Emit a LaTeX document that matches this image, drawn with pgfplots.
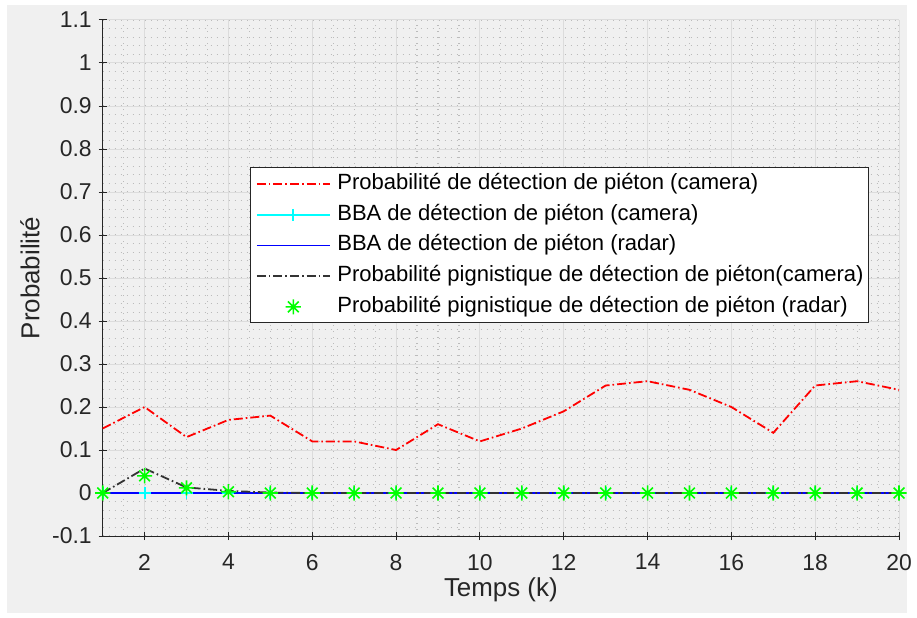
\documentclass[border=0pt]{standalone}
\usepackage{pgfplots}
\pgfplotsset{compat=1.18}
\usepackage{fontspec}
\setmainfont{Liberation Sans}
\definecolor{bg}{HTML}{F0F0F0}
\definecolor{axc}{HTML}{262626}
\definecolor{gridc}{HTML}{DCDCDC}
\definecolor{minorc}{HTML}{BBBBBB}
\definecolor{mred}{rgb}{1,0,0}
\definecolor{mcyan}{rgb}{0,1,1}
\definecolor{mblue}{rgb}{0,0,1}
\definecolor{mgreen}{rgb}{0,1,0}
\pgfdeclareplotmark{mstar}{%
 \pgfpathmoveto{\pgfqpoint{0pt}{\pgfplotmarksize}}\pgfpathlineto{\pgfqpoint{0pt}{-\pgfplotmarksize}}%
 \pgfpathmoveto{\pgfqpoint{\pgfplotmarksize}{0pt}}\pgfpathlineto{\pgfqpoint{-\pgfplotmarksize}{0pt}}%
 \pgfpathmoveto{\pgfqpoint{0.707\pgfplotmarksize}{0.707\pgfplotmarksize}}\pgfpathlineto{\pgfqpoint{-0.707\pgfplotmarksize}{-0.707\pgfplotmarksize}}%
 \pgfpathmoveto{\pgfqpoint{-0.707\pgfplotmarksize}{0.707\pgfplotmarksize}}\pgfpathlineto{\pgfqpoint{0.707\pgfplotmarksize}{-0.707\pgfplotmarksize}}%
 \pgfusepathqstroke}
\pgfplotsset{
  linelegend/.style={legend image code/.code={\draw[mark repeat=2, mark phase=2, ##1] plot coordinates {(0bp,0bp) (18.25bp,0bp) (36.5bp,0bp)};}},
  bluelegend/.style={legend image code/.code={\draw[draw=mblue, line width=0.9bp] (0bp,0bp) -- (36.5bp,0bp);}},
  starlegend/.style={legend image code/.code={\path[draw=none] (0bp,0bp) -- (36.5bp,0bp); \draw[##1, draw=none] plot[only marks] coordinates {(18.25bp,0bp)};}},
}
\pgfplotstableread{
x red cyan blue black green
1 0.15 0 0 0 0
2 0.20 0 0 0.057 0.040
3 0.13 0 0 0.013 0.012
4 0.17 0 0 0.005 0.003
5 0.18 0 0 0.001 0
6 0.12 0 0 0 0
7 0.12 0 0 0 0
8 0.10 0 0 0 0
9 0.16 0 0 0 0
10 0.12 0 0 0 0
11 0.15 0 0 0 0
12 0.19 0 0 0 0
13 0.25 0 0 0 0
14 0.26 0 0 0 0
15 0.24 0 0 0 0
16 0.20 0 0 0 0
17 0.14 0 0 0 0
18 0.25 0 0 0 0
19 0.26 0 0 0 0
20 0.24 0 0 0 0
}\datatable
\begin{document}
\begin{tikzpicture}[x=1bp,y=1bp]
\useasboundingbox (0,0) rectangle (458.5,308.5);
\fill[white] (0,0) rectangle (458.5,308.5);
\fill[bg] (3.5,2) rectangle (453.5,306);
\begin{axis}[
  at={(51.35bp,40.5bp)}, anchor=south west,
  scale only axis, width=398.15bp, height=258bp,
  xmin=1, xmax=20, ymin=-0.1, ymax=1.1,
  xtick={2,4,...,20},
  ytick={-0.1,0,0.1,0.2,0.3,0.4,0.5,0.6,0.7,0.8,0.9,1,1.1},
  yticklabels={-0.1,0,0.1,0.2,0.3,0.4,0.5,0.6,0.7,0.8,0.9,1,1.1},
  minor xtick={1,1.5,...,20},
  minor ytick={-0.1,-0.08,...,1.1},
  grid=both,
  major grid style={gridc, line width=0.5bp},
  minor grid style={minorc, line width=0.55bp, dash pattern=on 0.55bp off 2.45bp},
  minor tick length=0pt,
  major tick length=4bp,
  tick align=inside,
  axis x line=bottom, axis y line=left,
  axis line style={-, axc, line width=0.5bp},
  tick style={axc, line width=0.5bp},
  /pgf/number format/assume math mode=true,
  ticklabel style={font=\fontsize{11.5}{13}\selectfont, text=axc},
  xticklabel style={yshift=-3.5bp},
  xlabel={Temps (k)}, ylabel={Probabilité},
  label style={font=\fontsize{13}{15}\selectfont, text=axc},
  xlabel style={at={(axis description cs:0.5,-0.1047)}, anchor=center},
  ylabel style={at={(axis description cs:-0.0914,0.5)}, anchor=center},
  clip=false,
  legend cell align=left,
  legend style={at={(axis description cs:0.574,0.563)}, anchor=center,
    draw=axc, fill=white, line width=0.5bp,
    font=\fontsize{11.05}{13}\selectfont, text=black,
    inner xsep=2.6bp, inner ysep=2.8bp,
    nodes={inner sep=0pt, text height=8bp, text depth=2.5bp},
    row sep=4.85bp, column sep=3.3bp},
  linelegend,
]
\addplot[mred, line width=0.9bp, dash pattern=on 4.5bp off 1.5bp on 0.8bp off 1.5bp] table[x=x, y=red] {\datatable};
\addlegendentry{Probabilité de détection de piéton (camera)}
\addplot[mcyan, line width=0.9bp, mark=+, mark size=3bp, mark options={solid}] table[x=x, y=cyan] {\datatable};
\addlegendentry{BBA de détection de piéton (camera)}
\addplot[mblue, line width=0.9bp, bluelegend] table[x=x, y=blue] {\datatable};
\addlegendentry{BBA de détection de piéton (radar)}
\addplot[black!80, line width=0.9bp, dash pattern=on 4.5bp off 1.5bp on 0.8bp off 1.5bp] table[x=x, y=black] {\datatable};
\addlegendentry{Probabilité pignistique de détection de piéton(camera)}
\addplot[mgreen, only marks, mark=mstar, mark size=3.8bp, line width=0.8bp, starlegend] table[x=x, y=green] {\datatable};
\addlegendentry{Probabilité pignistique de détection de piéton (radar)}
\end{axis}
\end{tikzpicture}
\end{document}
